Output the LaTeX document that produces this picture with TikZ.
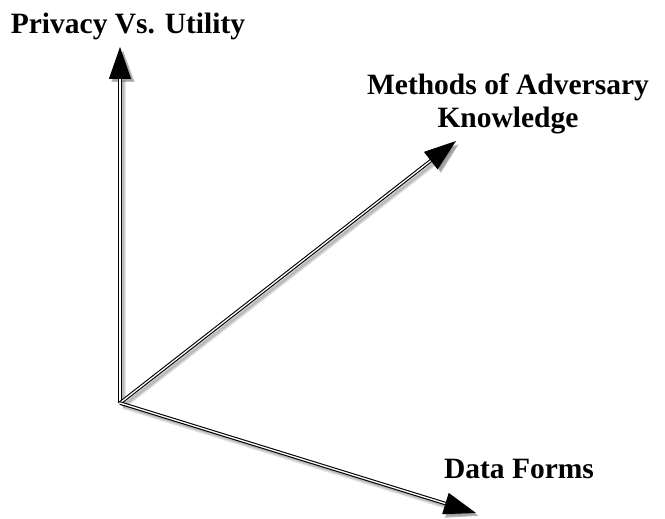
\documentclass[tikz,border=0pt]{standalone}
\usepackage{fontspec}
\setmainfont{Liberation Serif}
\usetikzlibrary{arrows.meta, positioning}
\tikzset{%
	axis/.style={draw=black, line width=1.1pt, double=white, double distance=1.3pt,%
		-{Triangle[length=32pt, width=22pt]}},
	axisshade/.style={draw=black, opacity=0.1, line width=#1,%
		-{Triangle[length=32pt, width=22pt]}, transform canvas={shift={(3pt,-3pt)}}},
	axislabel/.style={font=\fontsize{29.5}{33}\selectfont\bfseries, align=center,%
		inner sep=0pt, anchor=base}
}

\begin{document}
\begin{tikzpicture}[x=1pt, y=-1pt]
	\useasboundingbox (0,0) rectangle (665,519);
	\coordinate (o)  at (120,403);
	\coordinate (pu) at (120,47);
	\coordinate (mk) at (456,141);
	\coordinate (df) at (476,513);

	% soft shadow under the three axes
	\foreach \w in {2pt, 4pt, 6pt}
		\foreach \tip in {pu, mk, df}
			\draw[axisshade=\w] (o) -- (\tip);

	\draw[axis] (o) -- (pu);
	\draw[axis] (o) -- (mk);
	\draw[axis] (o) -- (df);

	\node[axislabel] (privacy) at (128,34)  {Privacy Vs. Utility};
	\node[axislabel] (methods) at (508,128) {Methods of Adversary\\Knowledge};
	\node[axislabel] (forms)   at (519,478) {Data Forms};
\end{tikzpicture}
\end{document}
